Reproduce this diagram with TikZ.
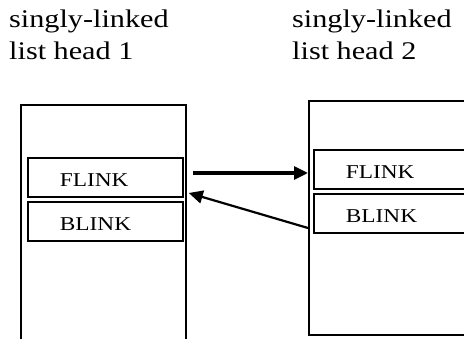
\documentclass[tikz,border=0pt]{standalone}
\usepackage{fontspec}
\setmainfont[FakeStretch=1.19]{Liberation Serif}
\usetikzlibrary{arrows.meta}
\usetikzlibrary{positioning}

\tikzset{
  title/.style={anchor=base west, inner sep=0pt, align=left,
    font=\fontsize{25.4}{32}\selectfont},
  head/.style={draw, line width=1.8pt, anchor=north west, inner sep=0pt,
    minimum width=165pt},
  field/.style={draw, line width=1.8pt, inner sep=0pt, inner xsep=32pt,
    minimum height=39pt, text width=91pt, align=left, text height=19pt,
    text depth=0pt, font=\fontsize{19.6}{22}\selectfont},
  link/.style={-{Triangle[length=14pt,width=13pt]}}
}

\begin{document}
\begin{tikzpicture}[x=1pt, y=-1pt]
  \clip (0,0) rectangle (464,339);

  % list heads (base anchor sits on the last line)
  \node[title] (title1) at (9,60) {singly-linked\\list head 1};
  \node[title] (title2) at (292,60) {singly-linked\\list head 2};

  \node[head, minimum height=250pt] (head1) at (20,104) {};
  \node[head, minimum height=234pt] (head2) at (308,100) {};

  % link fields
  \node[field, anchor=north west] (flink1) at (27,157) {FLINK};
  \node[field, below=3pt of flink1] (blink1) {BLINK};
  \node[field, anchor=north west] (flink2) at (313,149) {FLINK};
  \node[field, below=3pt of flink2] (blink2) {BLINK};

  % pointers
  \draw[link, line width=3.2pt] ([xshift=6pt,yshift=-69pt]head1.north east)
    -- ([yshift=-73pt]head2.north west);
  \draw[link, line width=2.2pt] ([yshift=-128pt]head2.north west)
    -- ([xshift=2pt,yshift=-89pt]head1.north east);
\end{tikzpicture}
\end{document}
